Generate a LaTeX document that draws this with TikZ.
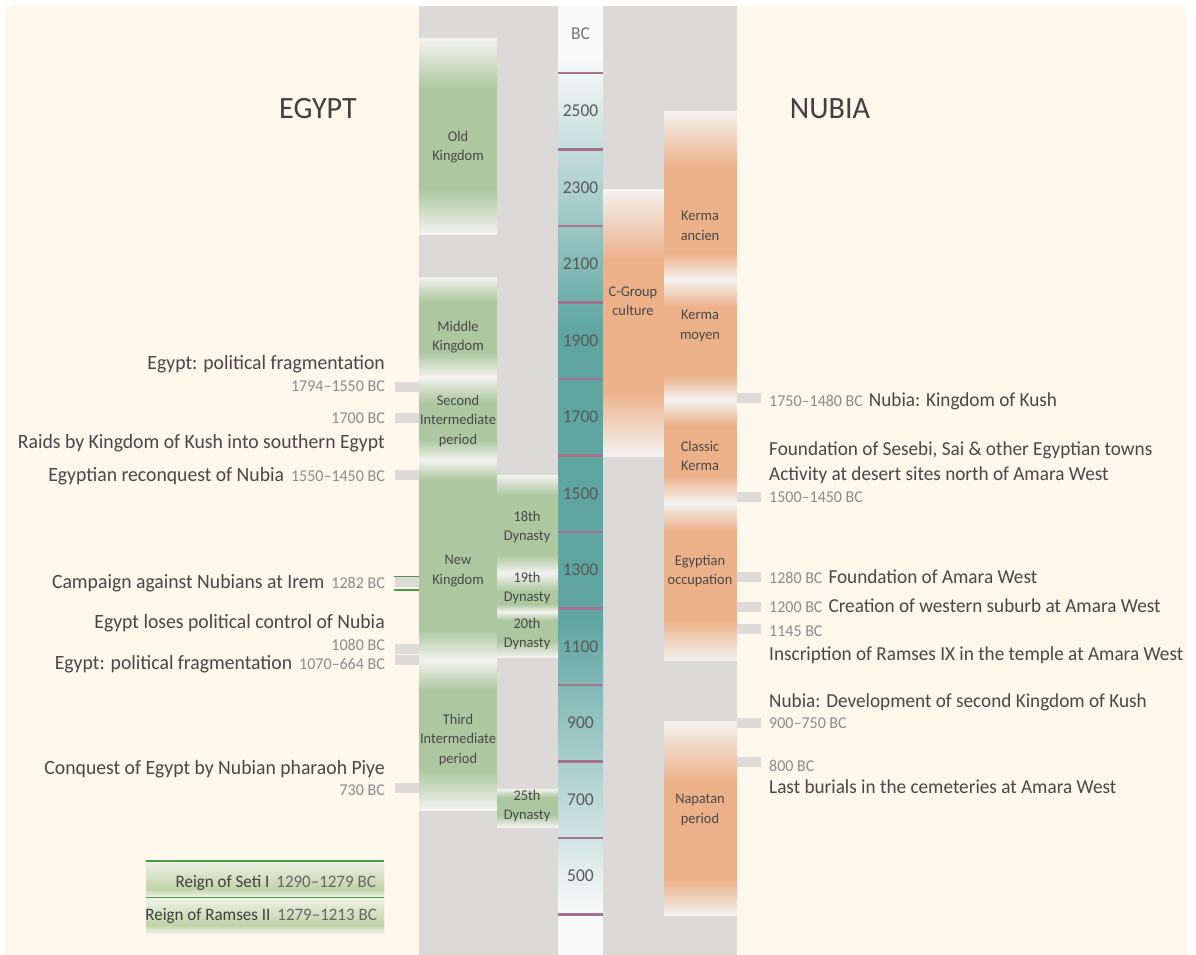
\documentclass[tikz,border=0pt]{standalone}
\usepackage{fontspec}
\setmainfont{Carlito}[FakeStretch=0.97]
\usetikzlibrary{positioning}
\definecolor{cream}{HTML}{FDF7EC}
\definecolor{colgray}{HTML}{DBDAD8}
\definecolor{colwhite}{HTML}{FAFAFA}
\definecolor{boxwhite}{HTML}{F3F2EF}
\definecolor{eggreen}{HTML}{ADC8A0}
\definecolor{nuorange}{HTML}{EDB18A}
\definecolor{teal}{HTML}{5FA6A1}
\definecolor{tickc}{HTML}{A6738E}
\definecolor{barc}{HTML}{DCDBD7}
\definecolor{linegreen}{HTML}{4C9A47}
\definecolor{legtop}{HTML}{EEF1E5}
\definecolor{leggreen}{HTML}{C0D3A8}
\definecolor{txt}{HTML}{484848}
\definecolor{datec}{HTML}{8C8C8C}
\newcommand{\datetxt}[1]{{\color{datec}\fontsize{16.5}{20}\selectfont #1}}
\newcommand{\legdate}[1]{{\color{black!60}\fontsize{17.5}{20}\selectfont #1}}
% box with faded ends: x1 x2 ytop ybot fadetop fadebot colour
\newcommand{\fadebox}[7]{%
  \fill[#7] (#1,#3) rectangle (#2,#4);
  \shade[top color=boxwhite,bottom color=#7] (#1,#3) rectangle (#2,#3+#5);
  \shade[top color=#7,bottom color=boxwhite] (#1,#4-#6) rectangle (#2,#4);}
% white band between two periods: x1 x2 y half colour
\newcommand{\whiteband}[5]{%
  \shade[top color=#5,bottom color=boxwhite] (#1,#3-#4) rectangle (#2,#3);
  \shade[top color=boxwhite,bottom color=#5] (#1,#3) rectangle (#2,#3+#4);}
\tikzset{
  evt/.style={font=\fontsize{20.3}{24}\selectfont, text=txt, inner sep=0pt},
  evtr/.style={evt, font=\fontsize{19.8}{24}\selectfont},
  dte/.style={font=\fontsize{16.5}{20}\selectfont, text=datec, inner sep=0pt},
  lbl/.style={font=\fontsize{14.8}{19.5}\selectfont, text=txt, align=center, inner sep=0pt},
  year/.style={font=\fontsize{18}{20}\selectfont, text=black!65, inner sep=0pt},
  head/.style={font=\fontsize{31}{34}\selectfont, text=black!75, inner sep=0pt},
  leg/.style={font=\fontsize{17.5}{20}\selectfont, text=black!75, inner sep=0pt},
  tickline/.style={tickc, line width=2.2pt},
  datebar/.style={fill=barc}
}
\begin{document}
\begin{tikzpicture}[x=1pt,y=-1pt]
  \useasboundingbox (0,0) rectangle (1196,955);
  % Background
  \fill[cream] (5,6) rectangle (1186,955);
  \fill[colgray] (419,6) rectangle (558,955);
  \fill[colgray] (603,6) rectangle (737,955);
  % Time scale
  \fill[colwhite] (558,6) rectangle (603,955);
  \shade[top color=colwhite,bottom color=teal] (558,55) rectangle (603,330);
  \fill[teal] (558,330) rectangle (603,620);
  \shade[top color=teal,bottom color=colwhite] (558,620) rectangle (603,915);
  \foreach \i in {0,...,11}
    \draw[tickline] (558,73+76.5*\i) -- (603,73+76.5*\i);
  \node[year,text=black!55] (bc) at (580.5,34) {BC};
  \foreach \yr [count=\i from 0] in {2500,2300,...,500}
    \node[year] (y\yr) at (580.5,111+76.5*\i) {\yr};

  % Egypt periods
  \fadebox{419}{497}{39}{234}{50}{45}{eggreen}
  \fadebox{419}{497}{277}{810}{25}{40}{eggreen}
  \whiteband{419}{497}{377}{25}{eggreen}
  \whiteband{419}{497}{460}{20}{eggreen}
  \whiteband{419}{497}{660}{30}{eggreen}
  \fadebox{497}{558}{475}{657}{20}{16}{eggreen}
  \whiteband{497}{558}{573}{18}{eggreen}
  \whiteband{497}{558}{612}{8}{eggreen}
  \fadebox{497}{558}{789}{827}{8}{12}{eggreen}
  \node[lbl] (old) at (458,147) {Old\\Kingdom};
  \node[lbl] (middle) at (458,337) {Middle\\Kingdom};
  \node[lbl] (second) at (458,421) {Second\\Intermediate\\period};
  \node[lbl] (new) at (458,571) {New\\Kingdom};
  \node[lbl] (third) at (458,740) {Third\\Intermediate\\period};
  \node[lbl] (d18) at (527,527) {18th\\Dynasty};
  \node[lbl] (d19) at (527,588) {19th\\Dynasty};
  \node[lbl] (d20) at (527,634) {20th\\Dynasty};
  \node[lbl] (d25) at (527,806) {25th\\Dynasty};

  % Nubia periods
  \fadebox{603}{664}{189}{456}{70}{65}{nuorange}
  \fadebox{664}{737}{112}{660}{55}{40}{nuorange}
  \whiteband{664}{737}{280}{27}{nuorange}
  \whiteband{664}{737}{400}{25}{nuorange}
  \whiteband{664}{737}{503}{28}{nuorange}
  \fadebox{664}{737}{721}{915}{60}{35}{nuorange}
  \node[lbl] (cgroup) at (633,301) {C-Group\\culture};
  \node[lbl] (ancien) at (700,226) {Kerma\\ancien};
  \node[lbl] (moyen) at (700,326) {Kerma\\moyen};
  \node[lbl] (classic) at (700,456) {Classic\\Kerma};
  \node[lbl] (occup) at (700,571) {Egyptian\\occupation};
  \node[lbl] (napatan) at (700,810) {Napatan\\period};

  % Headings
  \node[head,anchor=base] (egypt) at (318,118) {EGYPT};
  \node[head,anchor=base] (nubia) at (830,118) {NUBIA};

  % Date markers, Egypt side
  \foreach \y in {387,418,475,582,649,660,788}
    \fill[datebar] (395,\y-5) rectangle (419,\y+5);
  \draw[linegreen,line width=0.8pt] (394,576) -- (419,576);
  \draw[linegreen,line width=2pt] (394,590) -- (419,590);
  % Date markers, Nubia side
  \foreach \y in {398,497,577,607,629,723,762}
    \fill[datebar] (737,\y-5) rectangle (761,\y+5);

  % Egypt events
  \node[evt,anchor=base east] (e1) at (385,369) {Egypt: political fragmentation};
  \node[dte,anchor=base east] (e1d) at (385,391) {1794–1550 BC};
  \node[dte,anchor=base east] (e2d) at (385,423) {1700 BC};
  \node[evt,anchor=base east] (e2) at (385,448) {Raids by Kingdom of Kush into southern Egypt};
  \node[evt,anchor=base east] (e3) at (385,481) {Egyptian reconquest of Nubia\hspace{7pt}\datetxt{1550–1450 BC}};
  \node[evt,anchor=base east] (e4) at (385,588) {Campaign against Nubians at Irem\hspace{7pt}\datetxt{1282 BC}};
  \node[evt,anchor=base east] (e5) at (385,628) {Egypt loses political control of Nubia};
  \node[dte,anchor=base east] (e5d) at (385,650) {1080 BC};
  \node[evt,anchor=base east] (e6) at (385,669) {Egypt: political fragmentation\hspace{7pt}\datetxt{1070–664 BC}};
  \node[evt,anchor=base east] (e7) at (385,774) {Conquest of Egypt by Nubian pharaoh Piye};
  \node[dte,anchor=base east] (e7d) at (385,795) {730 BC};

  % Nubia events
  \node[evtr,anchor=base west] (n1) at (769,406) {\datetxt{1750–1480 BC}\hspace{6pt}Nubia: Kingdom of Kush};
  \node[evtr,anchor=base west] (n2) at (769,455) {Foundation of Sesebi, Sai \& other Egyptian towns};
  \node[evtr,anchor=base west] (n3) at (769,480) {Activity at desert sites north of Amara West};
  \node[dte,anchor=base west] (n3d) at (769,502) {1500–1450 BC};
  \node[evtr,anchor=base west] (n4) at (769,583) {\datetxt{1280 BC}\hspace{6pt}Foundation of Amara West};
  \node[evtr,anchor=base west] (n5) at (769,612) {\datetxt{1200 BC}\hspace{6pt}Creation of western suburb at Amara West};
  \node[dte,anchor=base west] (n6d) at (769,636) {1145 BC};
  \node[evtr,anchor=base west] (n6) at (769,660) {Inscription of Ramses IX in the temple at Amara West};
  \node[evtr,anchor=base west] (n7) at (769,707) {Nubia: Development of second Kingdom of Kush};
  \node[dte,anchor=base west] (n7d) at (769,728) {900–750 BC};
  \node[dte,anchor=base west] (n8d) at (769,771) {800 BC};
  \node[evtr,anchor=base west] (n8) at (769,793) {Last burials in the cemeteries at Amara West};

  % Legend
  \draw[linegreen,line width=2.2pt] (146,861) -- (384,861);
  \shade[top color=legtop,bottom color=leggreen] (146,862) rectangle (384,889);
  \shade[top color=leggreen,bottom color=legtop] (146,889) rectangle (384,896);
  \draw[linegreen,line width=2pt] (146,897.5) -- (384,897.5);
  \shade[top color=legtop,bottom color=leggreen] (146,898.5) rectangle (384,925);
  \shade[top color=leggreen,bottom color=legtop] (146,925) rectangle (384,933);
  \node[leg,anchor=base east] (seti) at (376,887) {Reign of Seti I\hspace{7pt}\legdate{1290–1279 BC}};
  \node[leg,anchor=base east] (ramses) at (377,920) {Reign of Ramses II\hspace{7pt}\legdate{1279–1213 BC}};
\end{tikzpicture}
\end{document}
